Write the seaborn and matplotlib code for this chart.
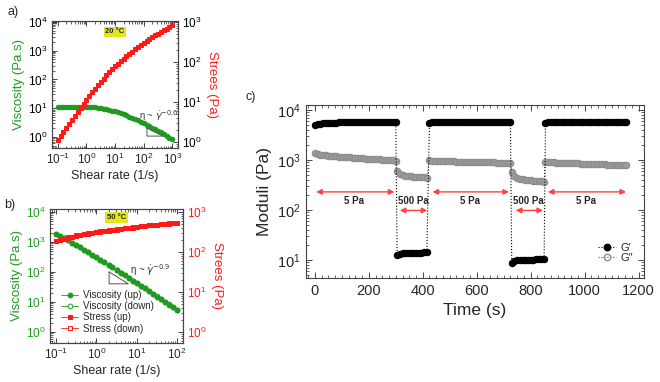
import matplotlib
matplotlib.use('Agg')
import matplotlib.pyplot as plt
import numpy as np
import pandas as pd
import seaborn as sns
from matplotlib.lines import Line2D
from matplotlib.ticker import MultipleLocator, LogLocator, NullFormatter

# ---- data ----
# panel a, 20 C flow curve
shear_a = [0.1, 0.126, 0.158, 0.2, 0.251, 0.316, 0.398, 0.501, 0.631, 0.794,
           1, 1.26, 1.58, 2, 2.51, 3.16, 3.98, 5.01, 6.31, 7.94,
           10, 12.6, 15.8, 20, 25.1, 31.6, 39.8, 50.1, 63.1, 79.4,
           100, 126, 158, 200, 251, 316, 398, 501, 631, 794, 1000]
visc_a = [11.0, 11.0, 11.1, 11.1, 11.1, 11.1, 11.2, 11.2, 11.2, 11.2,
          11.2, 11.1, 11.0, 10.8, 10.5, 10.1, 9.7, 9.3, 8.8, 8.3,
          7.8, 7.2, 6.7, 6.1, 5.6, 5.0, 4.6, 4.2, 3.8, 3.4,
          3.0, 2.7, 2.4, 2.1, 1.85, 1.63, 1.44, 1.26, 1.1, 0.96, 0.83]
stress_a = [1.10, 1.39, 1.75, 2.22, 2.79, 3.51, 4.46, 5.61, 7.07, 8.89,
            11.2, 14.0, 17.4, 21.6, 26.4, 31.9, 38.6, 46.6, 55.5, 65.9,
            78, 90.7, 106, 122, 141, 161, 183, 210, 240, 270,
            300, 340, 379, 420, 464, 515, 573, 631, 694, 762, 830]

# panel b, 50 C flow curve (up / down sweeps)
shear_b = [0.1, 0.126, 0.158, 0.2, 0.251, 0.316, 0.398, 0.501, 0.631, 0.794,
           1, 1.26, 1.58, 2, 2.51, 3.16, 3.98, 5.01, 6.31, 7.94,
           10, 12.6, 15.8, 20, 25.1, 31.6, 39.8, 50.1, 63.1, 79.4, 100]
visc_b_up = [1905, 1622, 1349, 1122, 933, 794, 661, 550, 457, 372,
             309, 251, 209, 170, 141, 115, 93.3, 77.6, 63.1, 51.3,
             41.7, 34.7, 28.2, 22.9, 18.6, 15.1, 12.3, 10.0, 8.13, 6.61, 5.3]
visc_b_down = [1880, 1610, 1340, 1130, 940, 800, 668, 556, 462, 376,
               312, 254, 211, 172, 142, 116, 94.0, 78.0, 63.5, 51.6,
               42.0, 34.9, 28.4, 23.0, 18.7, 15.2, 12.4, 10.1, 8.2, 6.65, 5.35]
stress_b_up = [190, 204, 213, 224, 234, 251, 263, 276, 288, 295,
               309, 316, 330, 340, 354, 363, 371, 389, 398, 407,
               417, 437, 446, 458, 467, 477, 490, 501, 513, 525, 530]
stress_b_down = [186, 200, 215, 230, 242, 258, 272, 284, 296, 305,
                 318, 326, 338, 350, 360, 370, 380, 394, 403, 412,
                 424, 440, 450, 462, 471, 482, 494, 505, 517, 528, 535]

# panel c, step-stress oscillatory test
time_c = [0, 10, 20, 30, 40, 50, 60, 70, 80, 90, 100, 110, 120, 130, 140, 150,
          160, 170, 180, 190, 200, 210, 220, 230, 240, 250, 260, 270, 280, 290, 300,
          305, 315, 325, 335, 345, 355, 365, 375, 385, 395, 405, 415,
          425, 435, 445, 455, 465, 475, 485, 495, 505, 515, 525, 535, 545, 555, 565,
          575, 585, 595, 605, 615, 625, 635, 645, 655, 665, 675, 685, 695, 705, 715, 725,
          730, 740, 750, 760, 770, 780, 790, 800, 810, 820, 830, 840, 850,
          855, 865, 875, 885, 895, 905, 915, 925, 935, 945, 955, 965, 975, 985, 995,
          1005, 1015, 1025, 1035, 1045, 1055, 1065, 1075, 1085, 1095, 1105, 1115,
          1125, 1135, 1145, 1155]
g1_c = [5100, 5250, 5350, 5420, 5480, 5520, 5560, 5590, 5610, 5630, 5650, 5660,
        5670, 5680, 5690, 5700, 5710, 5720, 5720, 5730, 5740, 5740, 5750, 5750,
        5760, 5760, 5770, 5770, 5780, 5780, 5790,
        12.3, 13.2, 13.5, 13.7, 13.8, 13.9, 14.0, 14.0, 14.1, 14.1, 14.2, 14.2,
        5600, 5680, 5720, 5740, 5760, 5770, 5780, 5790, 5800, 5800, 5810, 5810,
        5820, 5820, 5830, 5830, 5830, 5840, 5840, 5840, 5850, 5850, 5850, 5860,
        5860, 5860, 5860, 5870, 5870, 5870, 5870,
        8.8, 9.7, 9.9, 10.0, 10.1, 10.1, 10.2, 10.2, 10.2, 10.3, 10.3, 10.3, 10.3,
        5550, 5650, 5700, 5730, 5750, 5760, 5770, 5780, 5790, 5800, 5800, 5810,
        5810, 5820, 5820, 5820, 5830, 5830, 5830, 5840, 5840, 5840, 5840, 5850,
        5850, 5850, 5850, 5850, 5860, 5860, 5860]
g2_c = [1360, 1310, 1280, 1255, 1235, 1220, 1205, 1192, 1180, 1170, 1160, 1150,
        1140, 1130, 1120, 1110, 1100, 1090, 1080, 1070, 1060, 1052, 1044, 1036,
        1028, 1020, 1010, 1000, 990, 980, 970,
        610, 520, 500, 488, 478, 470, 465, 460, 456, 452, 448, 445,
        985, 975, 968, 962, 957, 952, 948, 944, 940, 936, 932, 928, 925, 922,
        919, 916, 913, 910, 907, 904, 901, 898, 896, 894, 892, 890, 888, 886,
        884, 882, 880,
        580, 470, 440, 425, 412, 403, 396, 390, 385, 381, 377, 374, 371,
        925, 912, 903, 896, 890, 884, 879, 874, 869, 865, 861, 857, 853, 849,
        845, 841, 837, 833, 829, 825, 821, 817, 813, 809, 805, 801, 797, 793,
        789, 785, 781]

step_low = ['5 Pa', '5 Pa', '5 Pa']
step_high = ['500 Pa', '500 Pa']

GREEN = '#1f9a1f'
RED = '#ff1a1a'
GRAY = '#8c8c8c'

sns.set_style('ticks')
plt.rcParams['font.family'] = ['Liberation Sans', 'DejaVu Sans']
plt.rcParams['xtick.direction'] = 'in'
plt.rcParams['ytick.direction'] = 'in'
plt.rcParams['axes.edgecolor'] = '#444444'
plt.rcParams['axes.linewidth'] = 0.8

fig = plt.figure(figsize=(6.6, 3.82), dpi=100)


def style_log_axis(axis):
    axis.set_major_locator(LogLocator(base=10, numticks=12))
    axis.set_minor_locator(LogLocator(base=10, subs=np.arange(2, 10), numticks=12))
    axis.set_minor_formatter(NullFormatter())


def flow_panel(rect, xlim, ylim_l, ylim_r, temp, temp_y, tick_colors):
    ax = fig.add_axes(rect)
    ax2 = ax.twinx()
    for a in (ax, ax2):
        a.set_xscale('log')
        a.set_yscale('log')
    ax.set_xlim(*xlim)
    ax.set_ylim(*ylim_l)
    ax2.set_ylim(*ylim_r)
    style_log_axis(ax.xaxis)
    style_log_axis(ax.yaxis)
    style_log_axis(ax2.yaxis)
    ax.tick_params(which='both', top=True, right=False, labelsize=8.5, pad=3)
    ax.tick_params(which='major', length=3.5, width=0.6)
    ax.tick_params(which='minor', length=1.8, width=0.5)
    ax.tick_params(axis='y', labelcolor=tick_colors[0])
    ax2.tick_params(which='both', labelsize=8.5, pad=3, labelcolor=tick_colors[1])
    ax2.tick_params(which='major', length=3.5, width=0.6)
    ax2.tick_params(which='minor', length=1.8, width=0.5)
    ax.text(0.5, temp_y, temp, transform=ax.transAxes,
            ha='center', va='center', fontsize=5.5, weight='bold',
            bbox=dict(facecolor='#e4e41c', edgecolor='none', pad=1.2))
    return ax, ax2


def label_flow_axes(ax, ax2):
    ax.set_xlabel('Shear rate (1/s)', fontsize=9, labelpad=2)
    ax.set_ylabel('Viscosity (Pa.s)', fontsize=9.5, color=GREEN, labelpad=2)
    ax2.set_ylabel('Strees (Pa)', fontsize=9.5, color=RED, rotation=270, labelpad=12)


# ---- panel a ----
df_a = pd.DataFrame({'shear': shear_a, 'visc': visc_a, 'stress': stress_a})
ax_a, ax_a2 = flow_panel([0.0788, 0.6126, 0.191, 0.3325],
                         (10 ** -1.2, 10 ** 3.2), (10 ** -0.38, 10 ** 4.03),
                         (10 ** -0.15, 10 ** 3.03), '20 °C', 0.915, ('black', 'black'))
sns.lineplot(data=df_a, x='shear', y='visc', ax=ax_a, color=GREEN, lw=0.6,
             marker='o', markersize=3.2, mec=GREEN, mfc=GREEN, legend=False)
sns.lineplot(data=df_a, x='shear', y='stress', ax=ax_a2, color=RED, lw=0.6,
             marker='s', markersize=3.2, mec=RED, mfc=RED, legend=False)
label_flow_axes(ax_a, ax_a2)
ax_a.plot([130, 130, 480, 130], [2.05, 1.08, 1.08, 2.05], color='#555555', lw=0.7)
ax_a.text(66, 5.4, 'η ~ $\\dot{\\gamma}^{-0.6}$', fontsize=6.8, color='#333333',
          ha='left', va='center')

# ---- panel b ----
df_b = pd.DataFrame({'shear': shear_b, 'visc_up': visc_b_up, 'visc_down': visc_b_down,
                     'stress_up': stress_b_up, 'stress_down': stress_b_down})
ax_b, ax_b2 = flow_panel([0.0758, 0.1021, 0.2015, 0.351],
                         (10 ** -1.15, 10 ** 2.15), (10 ** -0.37, 10 ** 4.1),
                         (10 ** -0.275, 10 ** 3.075), '50 °C', 0.935, (GREEN, RED))
sns.lineplot(data=df_b, x='shear', y='visc_down', ax=ax_b, color=GREEN, lw=0.6,
             marker='o', markersize=3.4, mec=GREEN, mfc='white', mew=0.7,
             label='Viscosity (down)')
sns.lineplot(data=df_b, x='shear', y='visc_up', ax=ax_b, color=GREEN, lw=0.6,
             marker='o', markersize=3.4, mec=GREEN, mfc=GREEN, label='Viscosity (up)')
sns.lineplot(data=df_b, x='shear', y='stress_down', ax=ax_b2, color=RED, lw=0.6,
             marker='s', markersize=3.4, mec=RED, mfc='white', mew=0.7,
             label='Stress (down)')
sns.lineplot(data=df_b, x='shear', y='stress_up', ax=ax_b2, color=RED, lw=0.6,
             marker='s', markersize=3.4, mec=RED, mfc=RED, label='Stress (up)')
label_flow_axes(ax_b, ax_b2)
h1, l1 = ax_b.get_legend_handles_labels()
h2, l2 = ax_b2.get_legend_handles_labels()
for a in (ax_b, ax_b2):
    if a.get_legend() is not None:
        a.get_legend().remove()
hmap = dict(zip(l1 + l2, h1 + h2))
order = ['Viscosity (up)', 'Viscosity (down)', 'Stress (up)', 'Stress (down)']
ax_b2.legend([hmap[k] for k in order], order, loc='lower left',
             bbox_to_anchor=(0.03, 0.02), frameon=False, fontsize=7,
             handlelength=1.8, handletextpad=0.5, labelspacing=0.12, borderpad=0.2)
ax_b.plot([2.07, 2.07, 6.2, 2.07], [100, 40, 40, 100], color='#555555', lw=0.7)
ax_b.text(6.8, 115, 'η ~ $\\dot{\\gamma}^{-0.9}$', fontsize=7, color='#333333',
          ha='left', va='center')

# ---- panel c ----
df_c = pd.DataFrame({'time': time_c, 'G1': g1_c, 'G2': g2_c})
ax_c = fig.add_axes([0.4636, 0.2723, 0.512, 0.4529])
ax_c.set_yscale('log')
ax_c.set_xlim(-33, 1220)
ax_c.set_ylim(10 ** 0.64, 10 ** 4.1)
sns.lineplot(data=df_c, x='time', y='G2', ax=ax_c, color='#555555', ls=':', lw=0.8,
             marker='o', markersize=4.6, mec=GRAY, mfc='#9c9c9c', mew=0.8, legend=False)
sns.lineplot(data=df_c, x='time', y='G1', ax=ax_c, color='black', ls=':', lw=0.8,
             marker='o', markersize=4.6, mec='black', mfc='black', legend=False)
ax_c.xaxis.set_major_locator(MultipleLocator(200))
ax_c.xaxis.set_minor_locator(MultipleLocator(25))
style_log_axis(ax_c.yaxis)
ax_c.tick_params(which='both', top=True, right=True, labelsize=10.5, pad=4)
ax_c.tick_params(which='major', length=4, width=0.6)
ax_c.tick_params(which='minor', length=2, width=0.5)
ax_c.set_xlabel('Time (s)', fontsize=12.5, labelpad=4)
ax_c.set_ylabel('Moduli (Pa)', fontsize=12.5, labelpad=3)
leg_handles = [Line2D([], [], color='black', ls=':', lw=0.8, marker='o', ms=4.6,
                      mfc='black', mec='black'),
               Line2D([], [], color='#555555', ls=':', lw=0.8, marker='o', ms=4.6,
                      mfc='none', mec=GRAY, mew=1.0)]
ax_c.legend(leg_handles, ['G′', 'G″'], loc='lower right', bbox_to_anchor=(0.99, 0.04),
            frameon=False, fontsize=8, handlelength=1.6, handletextpad=0.4,
            labelspacing=0.05, borderpad=0.2)

arrow_kw = dict(arrowstyle='<|-|>', color='#ff4040', lw=1.0, mutation_scale=8,
                shrinkA=0, shrinkB=0)
for (t0, t1), lab, tx in zip([(5, 295), (436, 720), (864, 1154)], step_low, [145, 575, 1005]):
    ax_c.annotate('', xy=(t0, 230), xytext=(t1, 230), arrowprops=arrow_kw)
    ax_c.text(tx, 150, lab, fontsize=7, weight='bold', ha='center', va='center')
for (t0, t1), lab, tx in zip([(315, 417), (745, 846)], step_high, [364, 793]):
    ax_c.annotate('', xy=(t0, 98), xytext=(t1, 98), arrowprops=arrow_kw)
    ax_c.text(tx, 150, lab, fontsize=7, weight='bold', ha='center', va='center')

fig.text(0.012, 0.968, 'a)', fontsize=9, ha='left', va='center')
fig.text(0.006, 0.463, 'b)', fontsize=9, ha='left', va='center')
fig.text(0.372, 0.746, 'c)', fontsize=9, ha='left', va='center')

fig.savefig('out.png', dpi=100)
